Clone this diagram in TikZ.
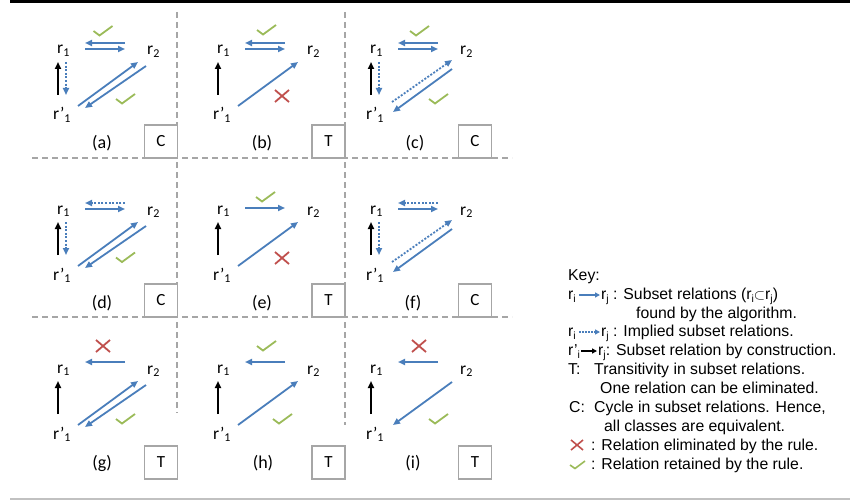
\documentclass[tikz,border=0pt]{standalone}
\usepackage{fontspec}
\setmainfont{Carlito}
\newfontfamily\keyfont{Liberation Sans}
\usetikzlibrary{arrows.meta,calc}

\definecolor{relblue}{HTML}{4A7EBB}
\definecolor{okgreen}{HTML}{9BBB59}
\definecolor{nored}{HTML}{C0504D}
\definecolor{gridgray}{HTML}{A6A6A6}

% subscripts for the relation labels and for the key
\newcommand\lsub[1]{\raisebox{-2.5pt}{\fontsize{12}{12}\selectfont #1}}
\newcommand\ksub[1]{\raisebox{-3pt}{\fontsize{10.5}{10.5}\selectfont #1}}

% the three classes r1, r2, r'1 of one panel, offset by (#2,#3)
\newcommand\rtriple[3]{%
  \node[rlab] (#1-1) at ({57+#2},{54+#3}) {r\lsub{1}};
  \node[rlab] (#1-2) at ({147+#2},{55+#3}) {r\lsub{2}};
  \node[rlab] (#1-3) at ({53+#2},{120+#3}) {r’\lsub{1}};}

% relations between the classes of panel #1
\newcommand\toparr[2]{\draw[#2] ($(#1-2.base west)+(-22,-12)$) -- ($(#1-1.base west)+(28,-11)$);}
\newcommand\botarr[2]{\draw[#2] ($(#1-1.base west)+(28,-5)$) -- ($(#1-2.base west)+(-22,-6)$);}
\newcommand\midarr[2]{\draw[#2] ($(#1-1.base west)+(28,-6)$) -- ($(#1-2.base west)+(-22,-7)$);}
\newcommand\uparr[1]{\draw[blkarr] ($(#1-3.base west)+(5,-25)$) -- ($(#1-1.base west)+(1,8)$);}
\newcommand\downdot[1]{\draw[dotarr] ($(#1-1.base west)+(9,8)$) -- ($(#1-3.base west)+(13,-25)$);}
\newcommand\diagup[2]{\draw[#2] ($(#1-3.base west)+(25,-14)$) -- ($(#1-2.base west)+(-9,7)$);}
\newcommand\diagdown[2]{\draw[#2] ($(#1-2.base west)+(-1,11)$) -- ($(#1-3.base west)+(32,-12)$);}
\newcommand\pairup[2]{\draw[#2] ($(#1-3.base west)+(26,-18)$) -- ($(#1-2.base west)+(-8,5)$);}
\newcommand\pairdown[2]{\draw[#2] ($(#1-2.base west)+(-8,14)$) -- ($(#1-3.base west)+(27,-8)$);}

\begin{document}
\begin{tikzpicture}[x=1pt,y=-1pt,
  rlab/.style={inner sep=0, anchor=base west, font=\fontsize{17.5}{20}\selectfont},
  plab/.style={inner sep=0, font=\fontsize{18}{20}\selectfont},
  rulebox/.style={draw=gridgray, line width=1.8pt, fill=white, minimum width=33pt,
    minimum height=33pt, inner sep=0, font=\fontsize{17}{20}\selectfont},
  grid/.style={draw=gridgray, line width=1.6pt, dash pattern=on 6pt off 4pt},
  tip/.style={-{Triangle[length=7pt,width=6pt]}},
  solarr/.style={tip, draw=relblue, line width=1.8pt},
  dotarr/.style={solarr, dash pattern=on 2pt off 1.6pt},
  blkarr/.style={tip, draw=black, line width=1.8pt},
  keyt/.style={inner sep=0, anchor=base west, font=\keyfont\fontsize{15.8}{19}\selectfont},
  chk/.pic={\draw[okgreen, line width=1.8pt] (-9,0) -- (-3,4.5) -- (10,-5);},
  crs/.pic={\draw[nored, line width=1.8pt] (-7,-6) -- (7,6) (-7,6) -- (7,-6);},
  kchk/.pic={\draw[okgreen, line width=1.6pt] (-7,0) -- (-2,3.5) -- (8,-4);},
  kcrs/.pic={\draw[nored, line width=1.6pt] (-6,-5) -- (6,5) (-6,5) -- (6,-5);}
]
\useasboundingbox (0,0) rectangle (850,500);

% frame rules
\draw[black, line width=3pt] (10,1.5) -- (850,1.5);
\draw[gridgray!70, line width=1.5pt] (10,499) -- (850,499);

% dashed grid between the panels
\draw[grid] (177,12) -- (177,413);
\draw[grid] (345,12) -- (345,425);
\draw[grid] (32,158) -- (512,158);
\draw[grid] (32,317) -- (512,317);

% rule boxes
\node[rulebox] (ba) at (161,141.5) {C};
\node[rulebox] (bb) at (328.5,141.5) {T};
\node[rulebox] (bc) at (475,141.5) {C};
\node[rulebox] (bd) at (161,300.5) {C};
\node[rulebox] (be) at (328.5,300.5) {T};
\node[rulebox] (bf) at (475,300.5) {C};
\node[rulebox] (bg) at (161,462.5) {T};
\node[rulebox] (bh) at (328.5,462.5) {T};
\node[rulebox] (bi) at (475,462.5) {T};

% panel captions
\node[plab] (la) at (102,143) {(a)};
\node[plab] (lb) at (262,143) {(b)};
\node[plab] (lc) at (415,143) {(c)};
\node[plab] (ld) at (102,303) {(d)};
\node[plab] (le) at (262,303) {(e)};
\node[plab] (lf) at (413,303) {(f)};
\node[plab] (lg) at (102,463) {(g)};
\node[plab] (lh) at (263,463) {(h)};
\node[plab] (li) at (413,463) {(i)};

% (a)
\rtriple{a}{0}{0}
\toparr{a}{solarr} \botarr{a}{solarr}
\uparr{a} \downdot{a}
\diagup{a}{solarr} \diagdown{a}{solarr}
\pic at (102.5,31) {chk}; \pic at (125,99) {chk};

% (b)
\rtriple{b}{160}{0}
\toparr{b}{solarr} \botarr{b}{solarr}
\uparr{b}
\diagup{b}{solarr}
\pic at (266,30) {chk}; \pic at (282,96) {crs};

% (c)
\rtriple{c}{313}{0}
\toparr{c}{solarr} \botarr{c}{solarr}
\uparr{c} \downdot{c}
\pairup{c}{dotarr} \pairdown{c}{solarr}
\pic at (419,31) {chk}; \pic at (438,99) {chk};

% (d)
\rtriple{d}{0}{160}
\toparr{d}{dotarr} \botarr{d}{solarr}
\uparr{d} \downdot{d}
\diagup{d}{solarr} \diagdown{d}{solarr}
\pic at (125,257.5) {chk};

% (e)
\rtriple{e}{160}{160}
\midarr{e}{solarr}
\uparr{e}
\diagup{e}{solarr}
\pic at (265,197) {chk}; \pic at (282,258) {crs};

% (f)
\rtriple{f}{313}{160}
\toparr{f}{dotarr} \botarr{f}{solarr}
\uparr{f} \downdot{f}
\pairup{f}{dotarr} \pairdown{f}{solarr}

% (g)
\rtriple{g}{0}{319}
\toparr{g}{solarr}
\uparr{g}
\diagup{g}{solarr} \diagdown{g}{solarr}
\pic at (103,346) {crs}; \pic at (125,419) {chk};

% (h)
\rtriple{h}{160}{319}
\toparr{h}{solarr}
\uparr{h}
\diagup{h}{solarr}
\pic at (266,346) {chk}; \pic at (282,419) {chk};

% (i)
\rtriple{i}{313}{319}
\toparr{i}{solarr}
\uparr{i}
\draw[solarr] ($(i-2.base west)+(-8,8)$) -- ($(i-3.base west)+(27,-14)$);
\pic at (419,346) {crs}; \pic at (438,419) {chk};

% key
\node[keyt] (k0) at (568,280) {Key:};
\node[keyt] (k1a) at (568,299) {r\ksub{i}};
\node[keyt] (k1b) at (601,299) {r\ksub{j} : Subset relations (r\ksub{i}$\subset$r\ksub{j})};
\draw[relblue, line width=1.5pt, -{Triangle[length=5pt,width=5pt]}]
  ($(k1a.base east)+(3,-4)$) -- ($(k1b.base west)+(-1,-4)$);
\node[keyt] (k1c) at (636,318) {found by the algorithm.};
\node[keyt] (k2a) at (568,336) {r\ksub{i}};
\node[keyt] (k2b) at (601,336) {r\ksub{j} : Implied subset relations.};
\draw[relblue, line width=1.5pt, dash pattern=on 1.6pt off 1.4pt, -{Triangle[length=5pt,width=5pt]}]
  ($(k2a.base east)+(3,-4)$) -- ($(k2b.base west)+(-1,-4)$);
\node[keyt] (k3a) at (568,355) {r’\ksub{i}};
\node[keyt] (k3b) at (598,355) {r\ksub{j}: Subset relation by construction.};
\draw[black, line width=1.5pt, -{Triangle[length=5pt,width=5pt]}]
  ($(k3a.base east)+(1,-4)$) -- ($(k3b.base west)+(-1,-4)$);
\node[keyt] (k4) at (568,374) {\makebox[26pt][l]{T:}Transitivity in subset relations.};
\node[keyt] (k5) at (600,393) {One relation can be eliminated.};
\node[keyt] (k6) at (569,412) {\makebox[25pt][l]{C:}Cycle in subset relations. Hence,};
\node[keyt] (k7) at (604,431) {all classes are equivalent.};
\pic at (577,445) {kcrs};
\node[keyt] (k8) at (591,450) {: Relation eliminated by the rule.};
\pic at (577,465) {kchk};
\node[keyt] (k9) at (591,469) {: Relation retained by the rule.};
\end{tikzpicture}
\end{document}
